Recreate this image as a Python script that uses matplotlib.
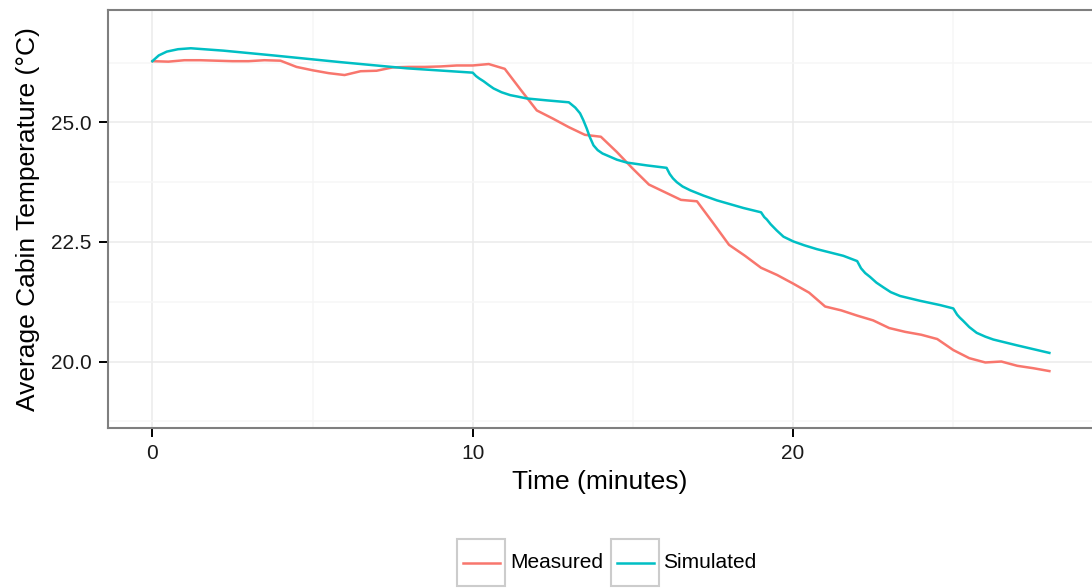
import matplotlib
matplotlib.use("Agg")
import matplotlib.pyplot as plt
from matplotlib.patches import Rectangle
from matplotlib.lines import Line2D
from matplotlib.ticker import MultipleLocator

plt.rcParams['font.family'] = ['Liberation Sans', 'DejaVu Sans']

# measured cabin temperature (every half minute)
meas_time = [i * 0.5 for i in range(57)]
meas_temp = [26.28, 26.27, 26.30, 26.30, 26.29, 26.28, 26.28, 26.30, 26.29, 26.16,
             26.09, 26.03, 25.99, 26.07, 26.08, 26.15, 26.16, 26.16, 26.17, 26.19,
             26.19, 26.22, 26.12, 25.68, 25.25, 25.08, 24.90, 24.74, 24.70, 24.38,
             24.03, 23.70, 23.54, 23.38, 23.35, 22.90, 22.44, 22.21, 21.96, 21.81,
             21.63, 21.44, 21.15, 21.07, 20.96, 20.86, 20.70, 20.62, 20.56, 20.47,
             20.24, 20.07, 19.98, 20.00, 19.91, 19.86, 19.80]

# simulated cabin temperature
sim_time = [0.0, 0.2, 0.45, 0.8, 1.2, 2.22, 3.78, 5.87, 7.95,
            10.0, 10.1, 10.2, 10.34, 10.5, 10.65, 10.9, 11.17, 11.4, 11.69, 12.32,
            13.0, 13.2, 13.35, 13.45, 13.56, 13.65, 13.77, 13.9, 14.05, 14.19, 14.5,
            14.81, 15.44,
            16.05, 16.15, 16.25, 16.37, 16.55, 16.79, 17.2, 17.62, 18.45,
            19.0, 19.1, 19.18, 19.3, 19.49, 19.7, 20.01, 20.35, 20.74, 21.57,
            22.0, 22.12, 22.25, 22.4, 22.6, 22.82, 23.05, 23.34, 23.96, 24.59,
            25.0, 25.12, 25.2, 25.31, 25.5, 25.73, 26.0, 26.25, 26.98, 28.0]
sim_temp = [26.28, 26.40, 26.48, 26.53, 26.55, 26.50, 26.40, 26.26, 26.13,
            26.04, 25.97, 25.92, 25.86, 25.78, 25.71, 25.63, 25.57, 25.54, 25.50, 25.46,
            25.42, 25.31, 25.19, 25.05, 24.87, 24.70, 24.52, 24.42, 24.35, 24.31, 24.22,
            24.16, 24.10,
            24.05, 23.92, 23.83, 23.75, 23.66, 23.58, 23.47, 23.37, 23.21,
            23.12, 23.02, 22.97, 22.87, 22.74, 22.61, 22.51, 22.43, 22.35, 22.21,
            22.10, 21.95, 21.85, 21.77, 21.65, 21.55, 21.45, 21.37, 21.27, 21.18,
            21.11, 20.98, 20.92, 20.85, 20.72, 20.60, 20.52, 20.46, 20.34, 20.18]

series_names = ["Measured", "Simulated"]
series_colors = ["#F8766D", "#00BFC4"]

W, H = 1092, 588
fig = plt.figure(figsize=(W / 100, H / 100), dpi=100)
ax = fig.add_axes([107.5 / W, 1 - 428 / H, 1 - 107.5 / W, (428 - 10) / H])

ax.plot(meas_time, meas_temp, color=series_colors[0], lw=1.8, solid_joinstyle='round')
ax.plot(sim_time, sim_temp, color=series_colors[1], lw=1.8, solid_joinstyle='round')

ax.set_xlim(-1.4, 29.33)
ax.set_ylim(18.61, 27.35)
ax.xaxis.set_minor_locator(MultipleLocator(5))
ax.yaxis.set_minor_locator(MultipleLocator(1.25))
ax.set_xticks([0, 10, 20])
ax.set_xticklabels(["0", "10", "20"])
ax.set_yticks([20, 22.5, 25])
ax.set_yticklabels(["20.0", "22.5", "25.0"])

ax.grid(which='major', color='#ebebeb', lw=1.1)
ax.grid(which='minor', color='#f6f6f6', lw=1.1)
ax.set_axisbelow(True)

for s in ['left', 'bottom', 'top']:
    ax.spines[s].set_color('#7f7f7f')
    ax.spines[s].set_linewidth(1.5)
ax.spines['right'].set_visible(False)

ax.tick_params(which='major', direction='out', length=6.5, width=1.4, color='black',
               labelsize=15, labelcolor='#1a1a1a', pad=5)
ax.tick_params(which='minor', length=0)

ax.set_xlabel("Time (minutes)", fontsize=19, labelpad=5, color='black')
ax.set_ylabel("Average Cabin Temperature (°C)", fontsize=19, labelpad=8, color='black')

# legend at bottom with boxed keys
keys = [(457, 510), (611, 663)]
for (bx, tx), name, col in zip(keys, series_names, series_colors):
    fig.add_artist(Rectangle((bx / W, 1 - 586 / H), 48 / W, 47 / H,
                             transform=fig.transFigure, fill=False,
                             edgecolor='#cccccc', lw=1.5))
    fig.add_artist(Line2D([(bx + 6) / W, (bx + 43) / W], [1 - 563 / H, 1 - 563 / H],
                          transform=fig.transFigure, color=col, lw=1.8))
    fig.text(tx / W, 1 - 563 / H, name, fontsize=15, va='center', ha='left',
             color='black')

fig.savefig("out.png", dpi=100)
